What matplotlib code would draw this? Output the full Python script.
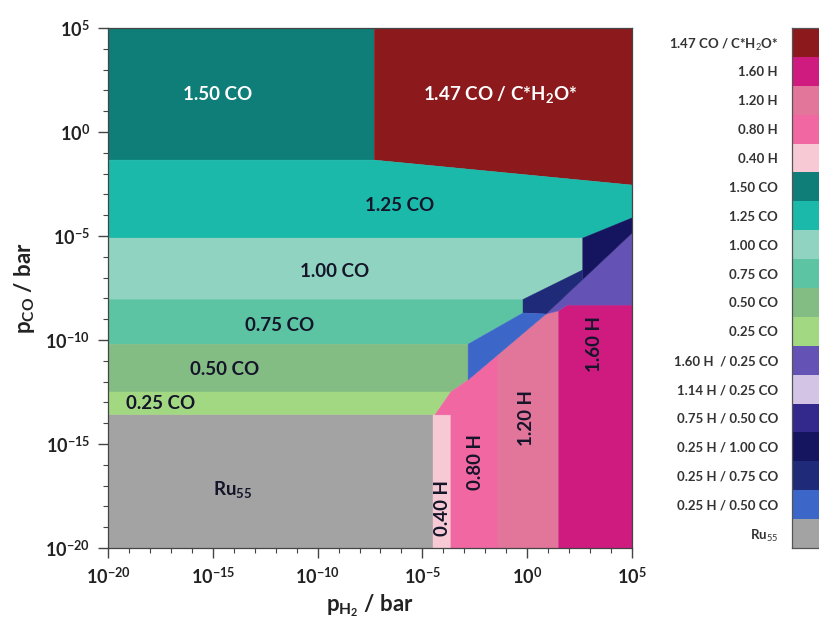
import numpy as np
import matplotlib
matplotlib.use('Agg')
import matplotlib.pyplot as plt
from matplotlib.ticker import FixedLocator, FuncFormatter, NullFormatter

plt.rcParams['font.family'] = ['Lato', 'DejaVu Sans']
plt.rcParams['mathtext.fontset'] = 'custom'
plt.rcParams['mathtext.rm'] = 'Lato'
plt.rcParams['mathtext.it'] = 'Lato:italic'
plt.rcParams['mathtext.bf'] = 'Lato:bold'

# ---- legend categories / colours ----
phases = ['1.47 CO / C*H$_2$O*', '1.60 H', '1.20 H', '0.80 H', '0.40 H',
          '1.50 CO', '1.25 CO', '1.00 CO', '0.75 CO', '0.50 CO', '0.25 CO',
          '1.60 H  / 0.25 CO', '1.14 H / 0.25 CO', '0.75 H / 0.50 CO',
          '0.25 H / 1.00 CO', '0.25 H / 0.75 CO', '0.25 H / 0.50 CO', 'Ru$_{55}$']
colors = ['#8c1a1d', '#cf1a80', '#e1759a', '#f067a2', '#f6c9d4',
          '#0f7d78', '#1bb9aa', '#8fd3c0', '#5cc4a2', '#84bd84', '#a3d883',
          '#6552b5', '#d3c4e6', '#33298c', '#15155f', '#1f2a78', '#3d66c9', '#a3a3a3']
col = dict(zip(phases, colors))

# ---- phase regions: vertices as log10(p_H2), log10(p_CO) ----
h2_150co = [-20, -7.3, -7.3, -20]
co_150co = [5, 5, -1.35, -1.35]
h2_147co = [-7.3, 5, 5, -7.3]
co_147co = [5, 5, -2.55, -1.35]
h2_125co = [-20, -7.3, 5, 5, 2.65, -20]
co_125co = [-1.35, -1.35, -2.55, -4.13, -5.1, -5.1]
h2_100co = [-20, 2.65, 2.65, -0.2, -20]
co_100co = [-5.1, -5.1, -6.63, -8.05, -8.05]
h2_075co = [-20, -0.2, -0.2, -2.82, -20]
co_075co = [-8.05, -8.05, -8.7, -10.2, -10.2]
h2_050co = [-20, -2.82, -2.82, -3.64, -20]
co_050co = [-10.2, -10.2, -11.92, -12.5, -12.5]
h2_025co = [-20, -3.64, -4.40, -20]
co_025co = [-12.5, -12.5, -13.6, -13.6]
h2_ru55 = [-20, -4.49, -4.49, -20]
co_ru55 = [-13.6, -13.6, -20, -20]
h2_040h = [-4.49, -4.40, -3.64, -3.64, -4.49]
co_040h = [-13.6, -13.6, -13.6, -20, -20]
h2_080h = [-3.64, -1.39, -1.39, -2.82, -3.64, -4.40, -3.64]
co_080h = [-20, -20, -10.70, -11.92, -12.5, -13.6, -13.6]
h2_120h = [-1.39, 1.5, 1.5, 0.9, -1.39]
co_120h = [-20, -20, -8.6, -8.75, -10.70]
h2_160h = [1.5, 5, 5, 1.9, 1.5]
co_160h = [-20, -20, -8.32, -8.32, -8.6]
h2_160h025co = [0.9, 1.5, 1.9, 5, 5]
co_160h025co = [-8.75, -8.6, -8.32, -8.32, -4.86]
h2_025h100co = [2.65, 5, 5, 2.65]
co_025h100co = [-5.1, -4.13, -4.86, -7.09]
h2_025h075co = [-0.2, 2.65, 2.65, 0.9, -0.2]
co_025h075co = [-8.05, -6.63, -7.09, -8.75, -8.7]
h2_025h050co = [-2.82, -0.2, 0.9, -2.82]
co_025h050co = [-10.2, -8.7, -8.75, -11.92]

regions = [
    (h2_150co, co_150co, '1.50 CO'),
    (h2_147co, co_147co, '1.47 CO / C*H$_2$O*'),
    (h2_125co, co_125co, '1.25 CO'),
    (h2_100co, co_100co, '1.00 CO'),
    (h2_075co, co_075co, '0.75 CO'),
    (h2_050co, co_050co, '0.50 CO'),
    (h2_025co, co_025co, '0.25 CO'),
    (h2_ru55, co_ru55, 'Ru$_{55}$'),
    (h2_040h, co_040h, '0.40 H'),
    (h2_080h, co_080h, '0.80 H'),
    (h2_120h, co_120h, '1.20 H'),
    (h2_160h, co_160h, '1.60 H'),
    (h2_160h025co, co_160h025co, '1.60 H  / 0.25 CO'),
    (h2_025h100co, co_025h100co, '0.25 H / 1.00 CO'),
    (h2_025h075co, co_025h075co, '0.25 H / 0.75 CO'),
    (h2_025h050co, co_025h050co, '0.25 H / 0.50 CO'),
]

# in-plot labels: text, log pH2, log pCO, rotation, colour
lab_text = ['1.50 CO', '1.47 CO / C*H$_\\mathbf{2}$O*', '1.25 CO', '1.00 CO', '0.75 CO',
            '0.50 CO', '0.25 CO', 'Ru$_\\mathbf{55}$', '0.40 H', '0.80 H', '1.20 H', '1.60 H']
lab_x = [-14.75, -1.3, -6.07, -9.17, -11.8, -14.42, -17.5, -14.04, -4.02, -2.49, -0.01, 3.23]
lab_y = [1.78, 1.78, -3.51, -6.73, -9.28, -11.44, -13.03, -17.2, -18.08, -15.87, -13.75, -10.2]
lab_rot = [0, 0, 0, 0, 0, 0, 0, 0, 90, 90, 90, 90]
lab_col = ['white', 'white'] + ['#15152a'] * 10

xticks_exp = [-20, -15, -10, -5, 0, 5]
yticks_exp = [-20, -15, -10, -5, 0, 5]

fig = plt.figure(figsize=(8.19, 6.32), dpi=100)
ax = fig.add_axes([108 / 819, 1 - 548 / 632, 524 / 819, 520 / 632])

for hx, cy, name in regions:
    ax.fill(10.0 ** np.array(hx), 10.0 ** np.array(cy), color=col[name], lw=0.3, ec=col[name])

for t, x, y, r, c in zip(lab_text, lab_x, lab_y, lab_rot, lab_col):
    ax.text(10.0 ** x, 10.0 ** y, t, rotation=r, color=c, fontsize=13.5, fontweight='bold',
            ha='center', va='center')

ax.set_xscale('log')
ax.set_yscale('log')
ax.set_xlim(1e-20, 1e5)
ax.set_ylim(1e-20, 1e5)

fmt = FuncFormatter(lambda v, p: '10$^{\\mathbf{%d}}$' % int(round(np.log10(v))))
for axis, ex in ((ax.xaxis, xticks_exp), (ax.yaxis, yticks_exp)):
    axis.set_major_locator(FixedLocator([10.0 ** e for e in ex]))
    axis.set_minor_locator(FixedLocator([10.0 ** e for e in range(-20, 6)]))
    axis.set_major_formatter(fmt)
    axis.set_minor_formatter(NullFormatter())
ax.tick_params(which='major', direction='out', length=7, width=1, color='#444444',
               labelsize=13, labelcolor='#222222', pad=6)
ax.tick_params(which='minor', direction='out', length=3.5, width=0.8, color='#444444')
for lbl in ax.get_xticklabels() + ax.get_yticklabels():
    lbl.set_fontweight('bold')
for s in ax.spines.values():
    s.set_color('#444444')
    s.set_linewidth(0.9)

ax.set_xlabel('p$_{\\mathbf{H}_\\mathbf{2}}$ / bar', fontsize=16, fontweight='bold', color='#222222', labelpad=4)
ax.set_ylabel('p$_{\\mathbf{CO}}$ / bar', fontsize=16, fontweight='bold', color='#222222', labelpad=6)

# legend colour bar
lax = fig.add_axes([792 / 819, 1 - 548 / 632, 60 / 819, 520 / 632])
idx = np.arange(len(phases))
lax.barh(idx, np.ones(len(phases)), height=1.0, color=colors)
lax.set_ylim(len(phases) - 0.5, -0.5)
lax.set_xlim(0, 1)
lax.set_xticks([])
lax.set_yticks(idx)
lax.set_yticklabels(phases, fontsize=9.5, color='#333333', fontweight='bold')
lax.tick_params(axis='y', length=0, pad=10)
for s in lax.spines.values():
    s.set_color('#555555')
    s.set_linewidth(0.9)

fig.savefig('out.png', dpi=100)
